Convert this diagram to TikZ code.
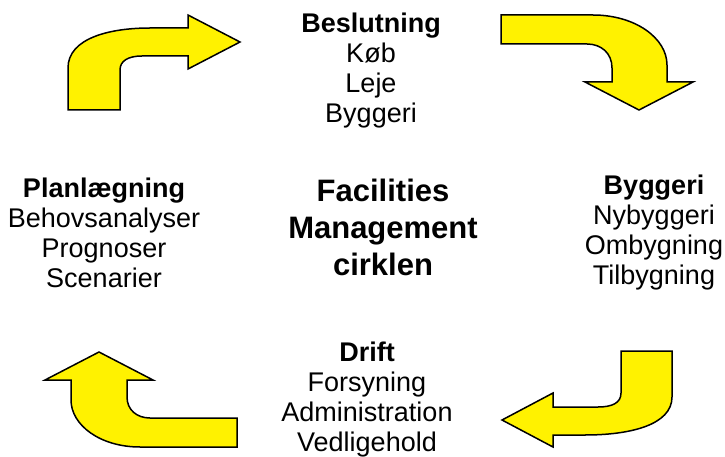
\documentclass[tikz,border=0pt]{standalone}
\usepackage{fontspec}
\setmainfont{Liberation Sans}
\usepackage{tikz}
\usetikzlibrary{calc}
\tikzset{turn arrow/.style={fill=yellow,draw=black,line width=1.5pt,line join=miter},item label/.style={align=center,font=\fontsize{27}{30}\selectfont},circle title/.style={align=center,font=\bfseries\fontsize{31}{37}\selectfont}}

\begin{document}
\begin{tikzpicture}[x=1pt,y=-1pt]
			\useasboundingbox (0,0) rectangle (725,457);
			\draw[turn arrow] (68,110) -- (68,68) .. controls (68,38) and (110,28) .. (150,28) -- (188,28) -- (188,15) -- (240,42) -- (188,69) -- (188,56) -- (142,56) .. controls (128,56) and (120,61) .. (120,70) -- (120,110) -- cycle;
			\draw[turn arrow] (501,15) -- (593,15) .. controls (635,15) and (667,38) .. (667,65) -- (667,82) -- (693,82) -- (639,110) -- (585,82) -- (612,82) -- (612,68) .. controls (612,53) and (601,44) .. (587,44) -- (501,44) -- cycle;
			\draw[turn arrow] (621,351) -- (672,351) -- (672,397) .. controls (672,425) and (630,435) .. (585,435) -- (553,435) -- (553,447) -- (502,420) -- (553,393) -- (553,407) -- (598,407) .. controls (612,407) and (621,403) .. (621,393) -- cycle;
			\draw[turn arrow] (237,418) -- (237,447) -- (140,447) .. controls (100,447) and (71,425) .. (71,400) -- (71,380) -- (45,380) -- (99,352) -- (153,380) -- (127,380) -- (127,397) .. controls (127,410) and (137,418) .. (150,418) -- cycle;
			\node[item label] (beslutning) at (371,71) {\textbf{Beslutning}\\Køb\\Leje\\Byggeri};
			\node[item label] (planlaegning) at (104,233) {\textbf{Planlægning}\\Behovsanalyser\\Prognoser\\Scenarier};
			\node[item label] (byggeri) at (654,233) {\textbf{Byggeri}\\Nybyggeri\\Ombygning\\Tilbygning};
			\node[item label] (drift) at (367,400) {\textbf{Drift}\\Forsyning\\Administration\\Vedligehold};
			\node[circle title] (fmcirkel) at (383,227) {Facilities\\Management\\cirklen};
		\end{tikzpicture}
\end{document}
